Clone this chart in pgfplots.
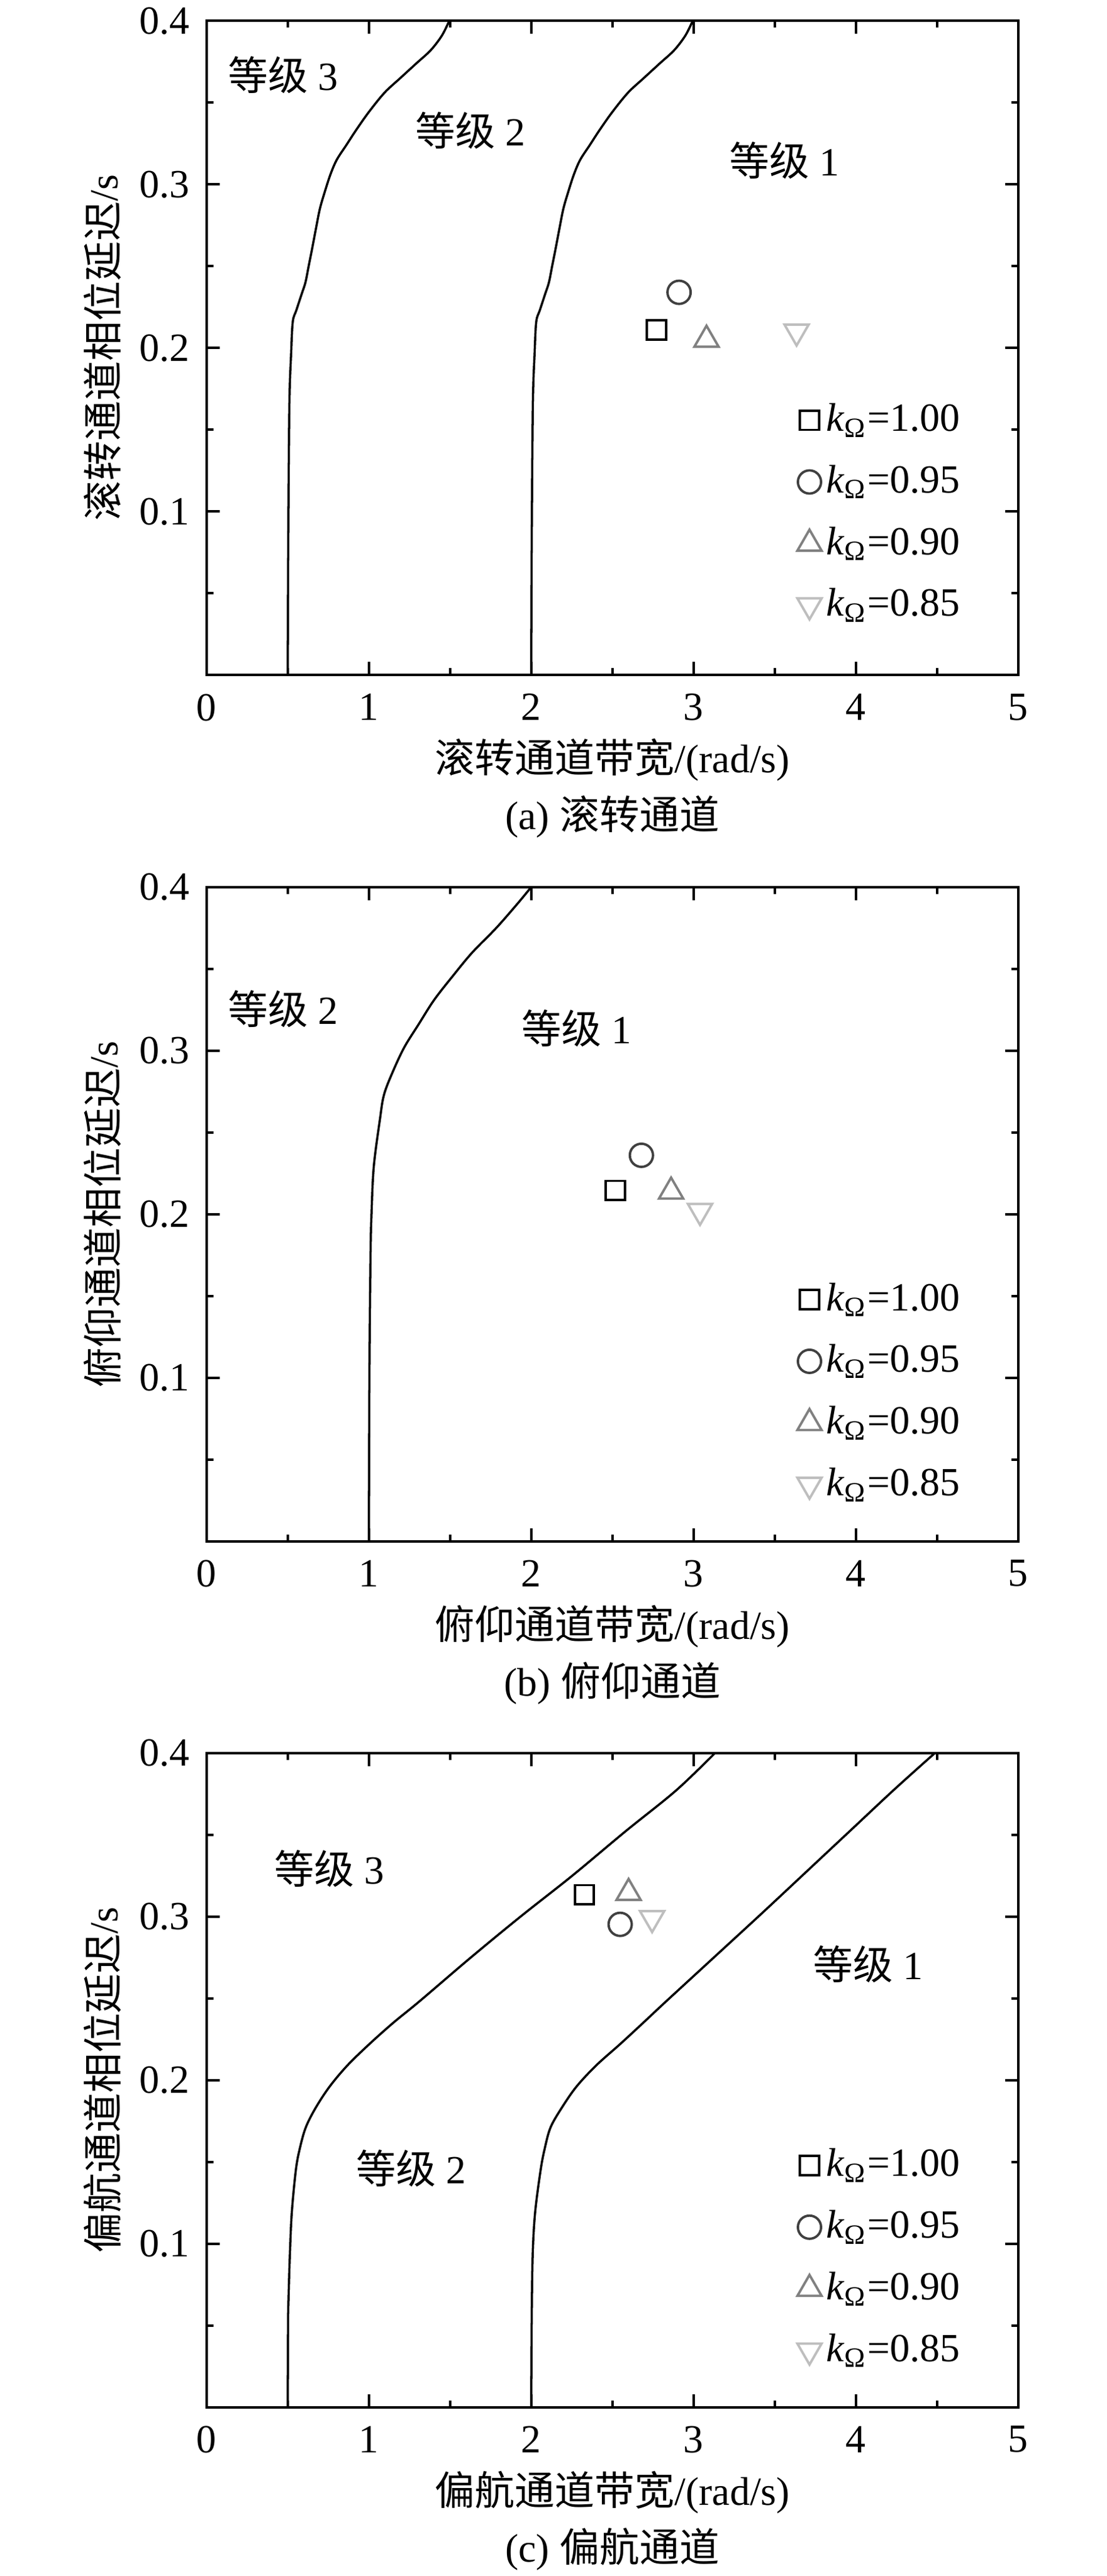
\documentclass[border=0pt]{standalone}
\usepackage{fontspec}
\setmainfont{Liberation Serif}
\newfontfamily\cjk{Noto Sans CJK SC}
\usepackage{pgfplots}
\pgfplotsset{compat=1.18}
\usepackage{pgfplotstable}

\definecolor{mA}{RGB}{0,0,0}
\definecolor{mB}{RGB}{64,64,64}
\definecolor{mC}{RGB}{128,128,128}
\definecolor{mD}{RGB}{190,190,190}

% ---------- data ----------
\pgfplotstableread{
x y
0.500 0.000
0.503 0.080
0.510 0.165
0.521 0.197
0.531 0.216
0.553 0.223
0.586 0.233
0.609 0.240
0.629 0.250
0.651 0.261
0.674 0.273
0.698 0.285
0.727 0.295
0.763 0.306
0.802 0.315
0.861 0.324
0.920 0.333
0.998 0.344
1.096 0.356
1.194 0.365
1.293 0.374
1.381 0.382
1.450 0.391
1.495 0.400
}\curveAone
\pgfplotstableread{
x y
2.000 0.000
2.003 0.080
2.010 0.165
2.021 0.197
2.031 0.216
2.053 0.223
2.086 0.233
2.109 0.240
2.129 0.250
2.151 0.261
2.174 0.273
2.198 0.285
2.227 0.295
2.263 0.306
2.302 0.315
2.361 0.324
2.420 0.333
2.498 0.344
2.596 0.356
2.694 0.365
2.793 0.374
2.881 0.382
2.950 0.391
2.995 0.400
}\curveAtwo
\pgfplotstableread{
x y
1.000 0.000
1.003 0.100
1.010 0.175
1.016 0.200
1.030 0.229
1.068 0.258
1.093 0.273
1.147 0.287
1.218 0.302
1.306 0.316
1.402 0.331
1.520 0.346
1.637 0.360
1.785 0.375
1.917 0.390
2.000 0.400
}\curveB
\pgfplotstableread{
x y
0.500 0.000
0.502 0.052
0.505 0.067
0.513 0.093
0.525 0.119
0.550 0.145
0.574 0.158
0.611 0.171
0.672 0.183
0.758 0.196
0.868 0.209
1.003 0.222
1.150 0.235
1.310 0.248
1.617 0.274
1.935 0.300
2.254 0.325
2.580 0.352
2.892 0.377
3.133 0.400
}\curveCone
\pgfplotstableread{
x y
2.000 0.000
2.003 0.054
2.009 0.093
2.024 0.119
2.058 0.145
2.083 0.158
2.119 0.171
2.188 0.183
2.279 0.196
2.401 0.209
2.548 0.222
2.690 0.235
2.830 0.248
3.115 0.274
3.400 0.300
3.670 0.325
3.950 0.351
4.230 0.377
4.488 0.400
}\curveCtwo

\pgfplotsset{
  mklegend/.style={legend image code/.code={\draw[mark repeat=2,mark phase=2,##1] plot coordinates {(-3.5pt,0pt)(0pt,0pt)(3.5pt,0pt)};}},
  myaxis/.style={
    scale only axis, width=203.1pt, height=163.75pt,
    xmin=0, xmax=5, ymin=0, ymax=0.4,
    xtick={0,1,2,3,4,5}, xticklabels={0,1,2,3,4,5},
    ytick={0.1,0.2,0.3,0.4}, yticklabels={0.1,0.2,0.3,0.4},
    minor xtick={0.5,1.5,2.5,3.5,4.5},
    minor ytick={0.05,0.15,0.25,0.35},
    tick align=inside,
    major tick length=3.3pt, minor tick length=1.7pt,
    axis line style={line width=0.65pt},
    every tick/.style={black, line width=0.65pt},
    /pgf/number format/assume math mode=true,
    tick label style={font=\fontsize{10}{12}\selectfont},
    xticklabel shift=1.2pt, yticklabel shift=0.7pt,
    every axis x label/.style={at={(axis description cs:0.5,0)}, anchor=center, yshift=-21.3pt},
    every axis y label/.style={at={(axis description cs:-0.128,0.5)}, anchor=center, rotate=90},
    clip=false,
    legend cell align=left,
    legend style={draw=none, fill=none, anchor=north west, inner sep=0pt,
      row sep=3pt, nodes={inner xsep=1.2pt, inner ysep=2pt, text depth=0.15em}},
    curve/.style={black, line width=0.55pt, smooth, tension=0.55, forget plot},
    pA/.style={only marks, mklegend, mark=square, color=mA, mark size=2.4pt, mark options={line width=0.6pt, solid}},
    pB/.style={only marks, mklegend, mark=o, color=mB, mark size=2.9pt, mark options={line width=0.6pt, solid}},
    pC/.style={only marks, mklegend, mark=triangle, color=mC, mark size=3.5pt, mark options={line width=0.6pt, solid}},
    pD/.style={only marks, mklegend, mark=triangle, color=mD, mark size=3.5pt, mark options={line width=0.6pt, solid, rotate=180}},
  }
}

\newcommand{\kO}[1]{\textit{k}\textsubscript{Ω}=#1}

\begin{document}
\begin{tikzpicture}
\useasboundingbox (-51.7pt,5.2pt) rectangle (225.2pt,-639.5pt);

% ---------------- (a) ----------------
\begin{axis}[myaxis, at={(0pt,0pt)}, anchor=north west,
  xlabel={{\cjk 滚转通道带宽}/(rad/s)},
  ylabel={{\cjk 滚转通道相位延迟}/s},
  legend style={at={(axis description cs:0.727,0.4286)}}]
\addplot[curve] table[x=x,y=y] {\curveAone};
\addplot[curve] table[x=x,y=y] {\curveAtwo};
\addplot[pA] coordinates {(2.772,0.211)}; \addlegendentry{\kO{1.00}}
\addplot[pB] coordinates {(2.911,0.234)}; \addlegendentry{\kO{0.95}}
\addplot[pC] coordinates {(3.080,0.205)}; \addlegendentry{\kO{0.90}}
\addplot[pD] coordinates {(3.635,0.210)}; \addlegendentry{\kO{0.85}}
\node at (axis cs:0.47,0.367) {{\cjk 等级} 3};
\node at (axis cs:1.625,0.333) {{\cjk 等级} 2};
\node at (axis cs:3.56,0.3145) {{\cjk 等级} 1};
\node at (axis description cs:0.5,0) [yshift=-35.5pt] {(a) {\cjk 滚转通道}};
\end{axis}

% ---------------- (b) ----------------
\begin{axis}[myaxis, at={(0pt,-216.8pt)}, anchor=north west,
  xlabel={{\cjk 俯仰通道带宽}/(rad/s)},
  ylabel={{\cjk 俯仰通道相位延迟}/s},
  legend style={at={(axis description cs:0.727,0.4086)}}]
\addplot[curve] table[x=x,y=y] {\curveB};
\addplot[pA] coordinates {(2.518,0.2145)}; \addlegendentry{\kO{1.00}}
\addplot[pB] coordinates {(2.679,0.236)}; \addlegendentry{\kO{0.95}}
\addplot[pC] coordinates {(2.862,0.2138)}; \addlegendentry{\kO{0.90}}
\addplot[pD] coordinates {(3.040,0.202)}; \addlegendentry{\kO{0.85}}
\node at (axis cs:0.4725,0.3255) {{\cjk 等级} 2};
\node at (axis cs:2.278,0.3135) {{\cjk 等级} 1};
\node at (axis description cs:0.5,0) [yshift=-35.5pt] {(b) {\cjk 俯仰通道}};
\end{axis}

% ---------------- (c) ----------------
\begin{axis}[myaxis, at={(0pt,-433.5pt)}, anchor=north west,
  xlabel={{\cjk 偏航通道带宽}/(rad/s)},
  ylabel={{\cjk 偏航通道相位延迟}/s},
  legend style={at={(axis description cs:0.727,0.4086)}}]
\addplot[curve] table[x=x,y=y] {\curveCone};
\addplot[curve] table[x=x,y=y] {\curveCtwo};
\addplot[pA] coordinates {(2.328,0.3133)}; \addlegendentry{\kO{1.00}}
\addplot[pB] coordinates {(2.548,0.2952)}; \addlegendentry{\kO{0.95}}
\addplot[pC] coordinates {(2.600,0.3144)}; \addlegendentry{\kO{0.90}}
\addplot[pD] coordinates {(2.745,0.299)}; \addlegendentry{\kO{0.85}}
\node at (axis cs:0.758,0.3293) {{\cjk 等级} 3};
\node at (axis cs:1.26,0.1459) {{\cjk 等级} 2};
\node at (axis cs:4.076,0.2709) {{\cjk 等级} 1};
\node at (axis description cs:0.5,0) [yshift=-35.5pt] {(c) {\cjk 偏航通道}};
\end{axis}
\end{tikzpicture}
\end{document}
